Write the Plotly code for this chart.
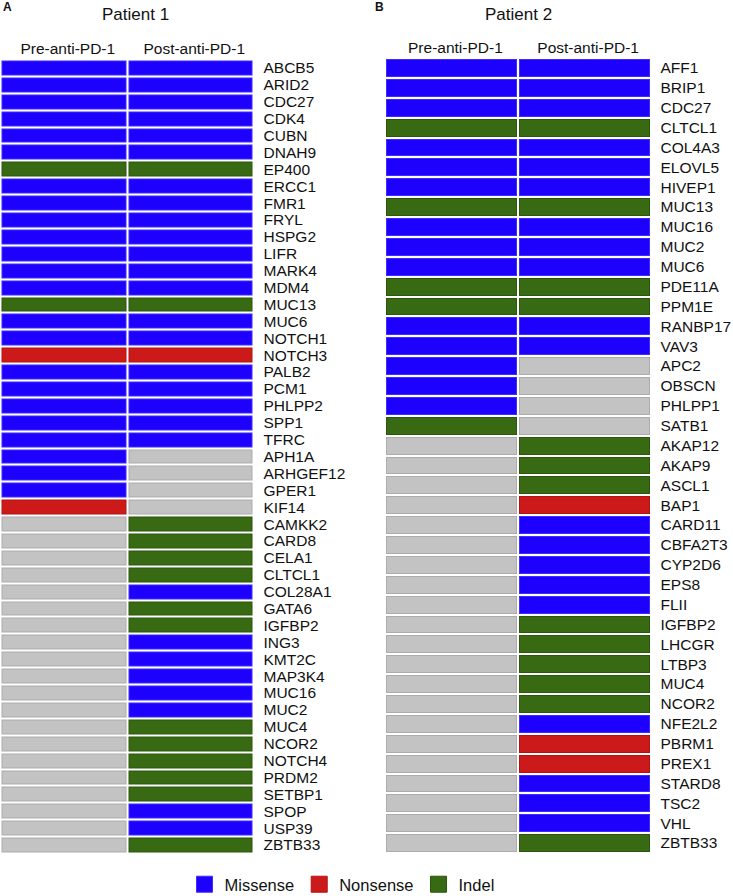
import plotly.graph_objects as go

# ---------------- data ----------------
COLUMNS = ["Pre-anti-PD-1", "Post-anti-PD-1"]
CATEGORIES = ["None", "Missense", "Nonsense", "Indel"]
CODE = {"-": 0, "M": 1, "N": 2, "I": 3}

p1_genes = ["ABCB5", "ARID2", "CDC27", "CDK4", "CUBN", "DNAH9", "EP400", "ERCC1",
            "FMR1", "FRYL", "HSPG2", "LIFR", "MARK4", "MDM4", "MUC13", "MUC6",
            "NOTCH1", "NOTCH3", "PALB2", "PCM1", "PHLPP2", "SPP1", "TFRC", "APH1A",
            "ARHGEF12", "GPER1", "KIF14", "CAMKK2", "CARD8", "CELA1", "CLTCL1",
            "COL28A1", "GATA6", "IGFBP2", "ING3", "KMT2C", "MAP3K4", "MUC16", "MUC2",
            "MUC4", "NCOR2", "NOTCH4", "PRDM2", "SETBP1", "SPOP", "USP39", "ZBTB33"]
p1_pre = ["M", "M", "M", "M", "M", "M", "I", "M", "M", "M", "M", "M", "M", "M", "I", "M",
          "M", "N", "M", "M", "M", "M", "M", "M", "M", "M", "N", "-", "-", "-", "-",
          "-", "-", "-", "-", "-", "-", "-", "-", "-", "-", "-", "-", "-", "-", "-", "-"]
p1_post = ["M", "M", "M", "M", "M", "M", "I", "M", "M", "M", "M", "M", "M", "M", "I", "M",
           "M", "N", "M", "M", "M", "M", "M", "-", "-", "-", "-", "I", "I", "I", "I",
           "M", "I", "I", "M", "M", "M", "M", "M", "I", "I", "I", "I", "I", "M", "M", "I"]

p2_genes = ["AFF1", "BRIP1", "CDC27", "CLTCL1", "COL4A3", "ELOVL5", "HIVEP1", "MUC13",
            "MUC16", "MUC2", "MUC6", "PDE11A", "PPM1E", "RANBP17", "VAV3", "APC2",
            "OBSCN", "PHLPP1", "SATB1", "AKAP12", "AKAP9", "ASCL1", "BAP1", "CARD11",
            "CBFA2T3", "CYP2D6", "EPS8", "FLII", "IGFBP2", "LHCGR", "LTBP3", "MUC4",
            "NCOR2", "NFE2L2", "PBRM1", "PREX1", "STARD8", "TSC2", "VHL", "ZBTB33"]
p2_pre = ["M", "M", "M", "I", "M", "M", "M", "I", "M", "M", "M", "I", "I", "M", "M", "M",
          "M", "M", "I", "-", "-", "-", "-", "-", "-", "-", "-", "-", "-", "-", "-", "-",
          "-", "-", "-", "-", "-", "-", "-", "-"]
p2_post = ["M", "M", "M", "I", "M", "M", "M", "I", "M", "M", "M", "I", "I", "M", "M", "-",
           "-", "-", "-", "I", "I", "I", "N", "M", "M", "M", "M", "M", "I", "I", "I", "I",
           "I", "M", "N", "N", "M", "M", "M", "I"]

# ---------------- style ----------------
FILL = ["#c3c3c3", "#1e00ff", "#cc1a1a", "#376a12"]
EDGE = ["#acacac", "#3d2cff", "#b31212", "#2b560c"]
FONT = "Liberation Sans, Arial, sans-serif"
TXT = "#111111"
W, H = 733, 896


def scale(cols):
    cs = []
    for i, c in enumerate(cols):
        cs.append([i / 4, c])
        cs.append([(i + 1) / 4, c])
    return cs


def px_x(p):
    return p / W


def px_y(p):
    return 1 - p / H


fig = go.Figure()

panels = [
    (p1_genes, p1_pre, p1_post, "x", "y"),
    (p2_genes, p2_pre, p2_post, "x2", "y2"),
]
for genes, pre, post, xa, ya in panels:
    z = [[CODE[a], CODE[b]] for a, b in zip(pre, post)]
    for cols, gap in ((EDGE, 2), (FILL, 4)):
        fig.add_trace(go.Heatmap(
            z=z, x=COLUMNS, y=genes, xaxis=xa, yaxis=ya,
            colorscale=scale(cols), zmin=-0.5, zmax=3.5, showscale=False,
            xgap=gap, ygap=gap, hoverinfo="skip"))

# legend entries
for i in (1, 2, 3):
    fig.add_trace(go.Scatter(
        x=[None], y=[None], mode="markers", name=CATEGORIES[i],
        marker=dict(symbol="square", size=16, color=FILL[i],
                    line=dict(color=EDGE[i], width=1)),
        showlegend=True))

axis_common = dict(showgrid=False, zeroline=False, showline=False, ticks="",
                   fixedrange=True, automargin=False)
tickfont = dict(family=FONT, size=15.5, color=TXT)


def yax(domain, anchor, genes):
    return dict(domain=domain, side="right", anchor=anchor, autorange="reversed",
                tickmode="array", tickvals=genes, ticktext=genes,
                tickfont=tickfont, ticklabelstandoff=9, **axis_common)


def xax(domain, anchor):
    return dict(domain=domain, side="top", anchor=anchor,
                tickmode="array", tickvals=COLUMNS, ticktext=COLUMNS,
                tickfont=tickfont, ticklabelstandoff=1, ticklabelshift=4,
                **axis_common)


fig.update_layout(
    width=W, height=H, margin=dict(l=0, r=0, t=0, b=0, autoexpand=False),
    paper_bgcolor="white", plot_bgcolor="white",
    font=dict(family=FONT, color=TXT),
    xaxis=xax([px_x(0.5), px_x(253.5)], "y"),
    yaxis=yax([px_y(853.5), px_y(59.5)], "x", p1_genes),
    xaxis2=xax([px_x(385), px_x(650.5)], "y2"),
    yaxis2=yax([px_y(853), px_y(58)], "x2", p2_genes),
    legend=dict(orientation="h", x=px_x(342), xanchor="center",
                y=px_y(867), yanchor="top",
                font=dict(family=FONT, size=16.5, color=TXT),
                itemsizing="trace", bgcolor="rgba(0,0,0,0)"),
    annotations=[
        dict(text="Patient 1", x=px_x(135.5), y=px_y(15), xref="paper", yref="paper",
             xanchor="center", yanchor="middle", showarrow=False,
             font=dict(family=FONT, size=17, color=TXT)),
        dict(text="Patient 2", x=px_x(518.8), y=px_y(15), xref="paper", yref="paper",
             xanchor="center", yanchor="middle", showarrow=False,
             font=dict(family=FONT, size=17, color=TXT)),
        dict(text="<b>A</b>", x=px_x(1), y=px_y(7.5), xref="paper", yref="paper",
             xanchor="left", yanchor="middle", showarrow=False,
             font=dict(family=FONT, size=12, color=TXT)),
        dict(text="<b>B</b>", x=px_x(373), y=px_y(7.5), xref="paper", yref="paper",
             xanchor="left", yanchor="middle", showarrow=False,
             font=dict(family=FONT, size=12, color=TXT)),
    ],
)

fig.write_html("out.html", config={"displayModeBar": False},
               post_script="document.body.style.margin='0';")
